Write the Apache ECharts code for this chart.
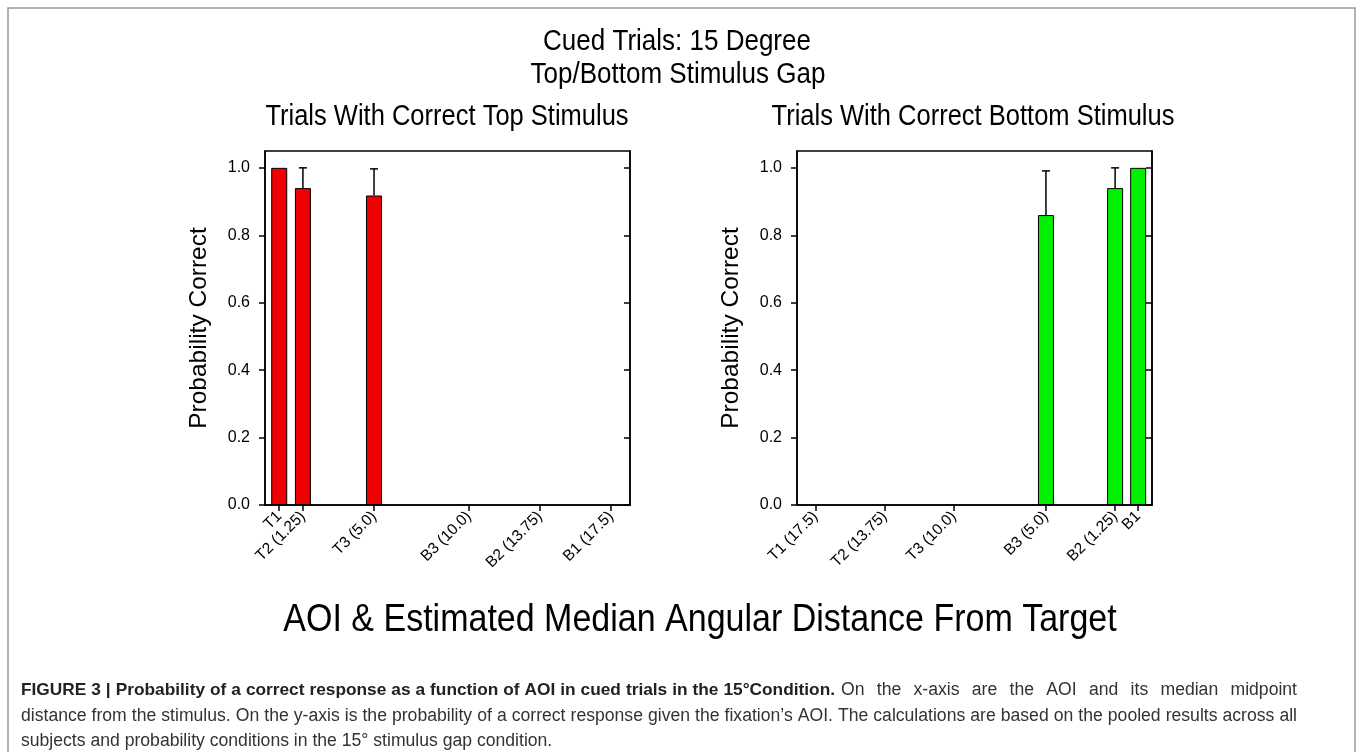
<!DOCTYPE html>
<html>
<head>
<meta charset="utf-8">
<script src="https://cdn.jsdelivr.net/npm/echarts@6/dist/echarts.min.js"></script>
<style>
  html, body { margin: 0; padding: 0; background: #fff; }
  #chart { width: 1357px; height: 752px; }
</style>
</head>
<body>
<div id="chart"></div>
<script>
// ---- data ----
const topLabels = ['T1', 'T2 (1.25)', 'T3 (5.0)', 'B3 (10.0)', 'B2 (13.75)', 'B1 (17.5)'];
const topPositions = [0, 1.25, 5.0, 10.0, 13.75, 17.5];
const topMeans = [1.0, 0.94, 0.918, null, null, null];
const topUpper = [1.0, 1.0, 0.997, null, null, null];

const bottomLabels = ['T1 (17.5)', 'T2 (13.75)', 'T3 (10.0)', 'B3 (5.0)', 'B2 (1.25)', 'B1'];
const bottomPositions = [17.5, 13.75, 10.0, 5.0, 1.25, 0];
const bottomMeans = [null, null, null, 0.86, 0.94, 1.0];
const bottomUpper = [null, null, null, 0.991, 1.0, 1.0];

const yTicks = [0, 0.2, 0.4, 0.6, 0.8, 1.0];

const captionBold = 'FIGURE 3 | Probability of a correct response as a function of AOI in cued trials in the 15°Condition.';
const captionLine1 = 'On the x-axis are the AOI and its median midpoint';
const captionLine2 = 'distance from the stimulus. On the y-axis is the probability of a correct response given the fixation\u2019s AOI. The calculations are based on the pooled results across all';
const captionLine3 = 'subjects and probability conditions in the 15° stimulus gap condition.';

const FONT = "'Liberation Sans', Arial, sans-serif";

// ---- helpers ----
function barData(pos, means) {
    return pos.map((p, i) => [p, means[i]]).filter(d => d[1] !== null);
}

function errData(pos, means, upper) {
    return pos.map((p, i) => [p, means[i], upper[i]])
        .filter(d => d[1] !== null && d[2] > d[1]);
}

function renderErr(params, api) {
    const base = api.coord([api.value(0), api.value(1)]);
    const top = api.coord([api.value(0), api.value(2)]);
    const st = { stroke: '#000', lineWidth: 1.5 };
    return {
        type: 'group',
        children: [
            { type: 'line', shape: { x1: base[0], y1: base[1], x2: top[0], y2: top[1] }, style: st },
            { type: 'line', shape: { x1: top[0] - 4, y1: top[1], x2: top[0] + 4, y2: top[1] }, style: st },
        ],
    };
}

function xAxisFor(gridIndex, positions, labels, inverse) {
    return {
        type: 'value',
        gridIndex,
        min: -0.75,
        max: 18.5,
        inverse,
        axisLine: { show: true, onZero: false, lineStyle: { color: '#000', width: 1.5 } },
        axisTick: { show: true, length: 6, customValues: positions, lineStyle: { color: '#000', width: 1.5 } },
        axisLabel: {
            customValues: positions,
            rotate: 45,
            color: '#000',
            fontFamily: FONT,
            fontSize: 15.5,
            margin: 9,
            formatter: v => {
                const i = positions.findIndex(p => Math.abs(p - v) < 1e-6);
                return i >= 0 ? labels[i] : '';
            },
        },
        splitLine: { show: false },
    };
}

function yAxesFor(gridIndex) {
    return [
        {
            type: 'value',
            gridIndex,
            min: 0,
            max: 1.05,
            name: 'Probability Correct',
            nameLocation: 'middle',
            nameGap: 53,
            nameTextStyle: { color: '#000', fontFamily: FONT, fontSize: 24.5 },
            axisLine: { show: true, onZero: false, lineStyle: { color: '#000', width: 1.5 } },
            axisTick: { show: true, length: 6, customValues: yTicks, lineStyle: { color: '#000', width: 1.5 } },
            axisLabel: {
                customValues: yTicks,
                color: '#000',
                fontFamily: FONT,
                fontSize: 16,
                margin: 15,
                formatter: v => v.toFixed(1),
            },
            splitLine: { show: false },
        },
        {
            type: 'value',
            gridIndex,
            position: 'right',
            min: 0,
            max: 1.05,
            axisLine: { show: true, onZero: false, lineStyle: { color: '#000', width: 1.5 } },
            axisTick: { show: true, inside: true, length: 6, customValues: yTicks, lineStyle: { color: '#000', width: 1.5 } },
            axisLabel: { show: false },
            splitLine: { show: false },
        },
    ];
}

// horizontal heading text, a little taller than wide like the source figure
function heading(text, cx, cy, size) {
    return {
        type: 'text',
        x: cx, y: cy,
        scaleY: 1.12,
        silent: true,
        style: {
            text, fontFamily: FONT, fontSize: size, fill: '#000',
            align: 'center', verticalAlign: 'middle',
        },
    };
}

// justified caption line: spread the words between x0 and x1
const measureCtx = document.createElement('canvas').getContext('2d');
const CAP_SIZE = 17.6;
const CAP_BOLD = 17.3;

function justifyLine(words, x0, x1, y) {
    const sizeOf = w => (w.bold ? CAP_BOLD : CAP_SIZE);
    const widths = words.map(w => {
        measureCtx.font = (w.bold ? 'bold ' : '') + sizeOf(w) + 'px ' + FONT;
        return measureCtx.measureText(w.text).width;
    });
    const total = widths.reduce((a, b) => a + b, 0);
    const gap = (x1 - x0 - total) / (words.length - 1);
    let x = x0;
    return words.map((w, i) => {
        const el = {
            type: 'text', x, y, silent: true,
            style: {
                text: w.text, fontFamily: FONT, fontSize: sizeOf(w),
                fontWeight: w.bold ? 'bold' : 'normal',
                fill: w.bold ? '#222' : '#333',
                verticalAlign: 'middle',
            },
        };
        x += widths[i] + gap;
        return el;
    });
}

const split = (s, bold) => s.split(' ').map(text => ({ text, bold }));

const captionEls = [
    ...justifyLine(split(captionBold, true), 21, 835, 690),
    ...justifyLine(split(captionLine1, false), 841, 1297, 690),
    ...justifyLine(split(captionLine2, false), 21, 1297, 716),
    {
        type: 'text', x: 21, y: 741, silent: true,
        style: { text: captionLine3, fontFamily: FONT, fontSize: CAP_SIZE, fill: '#333', verticalAlign: 'middle' },
    },
];

const chart = echarts.init(document.getElementById('chart'));

chart.setOption({
    backgroundColor: '#fff',
    animation: false,
    grid: [
        { left: 265, top: 151, width: 365, height: 354, show: true, borderColor: '#000', borderWidth: 1.5, backgroundColor: 'transparent' },
        { left: 797, top: 151, width: 355, height: 354, show: true, borderColor: '#000', borderWidth: 1.5, backgroundColor: 'transparent' },
    ],
    xAxis: [
        xAxisFor(0, topPositions, topLabels, false),
        xAxisFor(1, bottomPositions, bottomLabels, true),
    ],
    yAxis: [...yAxesFor(0), ...yAxesFor(1)],
    series: [
        {
            type: 'bar',
            xAxisIndex: 0, yAxisIndex: 0,
            barWidth: 16,
            data: barData(topPositions, topMeans),
            itemStyle: { color: '#f00000', borderColor: '#000', borderWidth: 1 },
        },
        {
            type: 'custom',
            xAxisIndex: 0, yAxisIndex: 0,
            data: errData(topPositions, topMeans, topUpper),
            renderItem: renderErr,
            z: 5,
        },
        {
            type: 'bar',
            xAxisIndex: 1, yAxisIndex: 2,
            barWidth: 16,
            data: barData(bottomPositions, bottomMeans),
            itemStyle: { color: '#00f000', borderColor: '#000', borderWidth: 1 },
        },
        {
            type: 'custom',
            xAxisIndex: 1, yAxisIndex: 2,
            data: errData(bottomPositions, bottomMeans, bottomUpper),
            renderItem: renderErr,
            z: 5,
        },
    ],
    graphic: [
        {
            type: 'rect',
            shape: { x: 8, y: 8, width: 1347, height: 760 },
            style: { fill: 'transparent', stroke: '#999', lineWidth: 1.5 },
            silent: true,
        },
        heading('Cued Trials: 15 Degree', 677, 42, 26),
        heading('Top/Bottom Stimulus Gap', 678, 75, 26),
        heading('Trials With Correct Top Stimulus', 447, 117, 25.5),
        heading('Trials With Correct Bottom Stimulus', 973, 117, 25.5),
        heading('AOI & Estimated Median Angular Distance From Target', 700, 620, 34),
        ...captionEls,
    ],
});
</script>
</body>
</html>
